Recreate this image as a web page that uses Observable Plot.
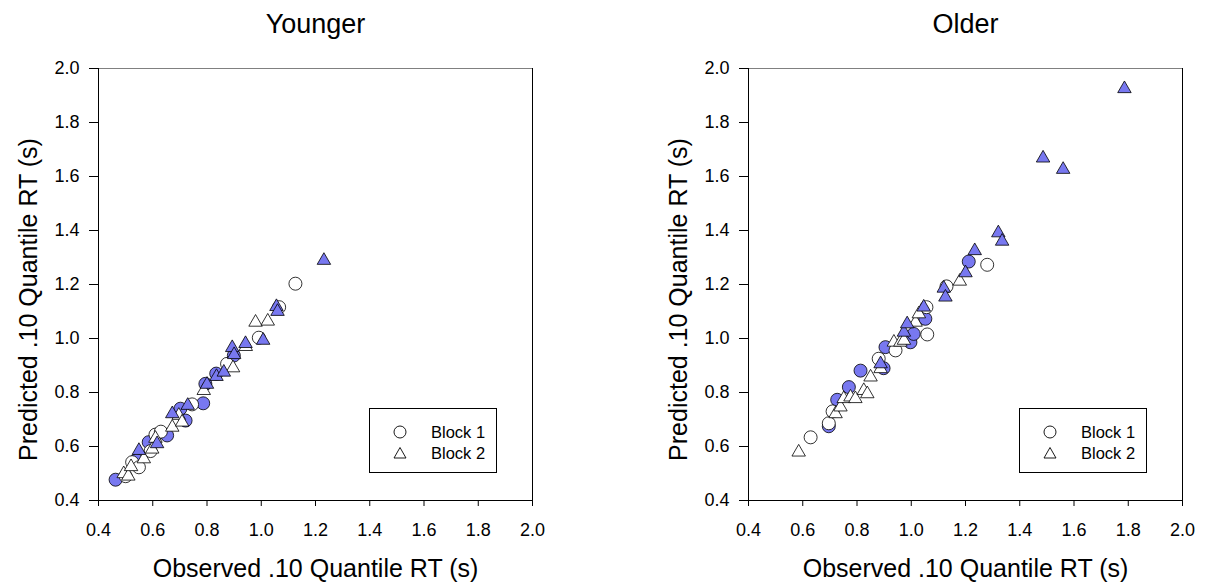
<!DOCTYPE html>
<html>
<head>
<meta charset="utf-8">
<script src="https://cdn.jsdelivr.net/npm/d3@7"></script>
<script src="https://cdn.jsdelivr.net/npm/@observablehq/plot@0.6"></script>
<style>
  html, body { margin: 0; padding: 0; background: #fff; }
  #wrap { position: relative; width: 1208px; height: 584px; overflow: hidden; font-family: "Liberation Sans", Arial, sans-serif; }
  .panel { position: absolute; top: 0; width: 540px; height: 584px; }
  .panel svg { position: absolute; left: 0; top: 0; }
  .legend { position: absolute; left: 369px; top: 408px; width: 128px; height: 65px; border: 1px solid #000; background: #fff; box-sizing: border-box; }
  .legend .row { position: absolute; left: 0; height: 20px; display: flex; align-items: center; }
  .legend .row svg { position: static; display: block; margin-left: 23px; }
  .legend .row span { font-size: 16.5px; color: #000; margin-left: 24px; }
</style>
</head>
<body>
<div id="wrap"></div>
<script>
// ---- data: [observed, predicted] pairs ----
const panelTitles = ["Younger", "Older"];
const xLabel = "Observed .10 Quantile RT (s)";
const yLabel = "Predicted .10 Quantile RT (s)";
const xTicks = [0.4, 0.6, 0.8, 1.0, 1.2, 1.4, 1.6, 1.8, 2.0];
const yTicks = [0.4, 0.6, 0.8, 1.0, 1.2, 1.4, 1.6, 1.8, 2.0];
const legendLabels = ["Block 1", "Block 2"];

const youngerB1Filled = [[0.463,0.477],[0.540,0.550],[0.585,0.616],[0.653,0.641],[0.702,0.740],[0.721,0.696],[0.786,0.760],[0.794,0.832],[0.834,0.870],[0.899,0.937]];
const youngerB1Open   = [[0.500,0.490],[0.524,0.542],[0.549,0.523],[0.592,0.583],[0.610,0.644],[0.630,0.655],[0.745,0.756],[0.874,0.906],[0.991,1.003],[1.066,1.116],[1.126,1.203]];
const youngerB2Open   = [[0.493,0.499],[0.510,0.490],[0.520,0.525],[0.567,0.554],[0.598,0.590],[0.610,0.630],[0.672,0.671],[0.696,0.715],[0.708,0.690],[0.788,0.807],[0.896,0.891],[0.943,0.970],[0.979,1.060],[1.024,1.064]];
const youngerB2Filled = [[0.549,0.585],[0.616,0.610],[0.672,0.721],[0.729,0.752],[0.800,0.830],[0.835,0.859],[0.862,0.875],[0.893,0.966],[0.900,0.940],[0.942,0.981],[1.007,0.993],[1.056,1.118],[1.060,1.100],[1.231,1.289]];

const olderB1Filled = [[0.696,0.675],[0.727,0.773],[0.770,0.820],[0.813,0.881],[0.898,0.890],[0.905,0.968],[0.997,0.986],[1.009,1.017],[1.052,1.073],[1.212,1.285]];
const olderB1Open   = [[0.629,0.634],[0.696,0.686],[0.710,0.730],[0.880,0.925],[0.942,0.956],[1.059,1.015],[1.056,1.116],[1.130,1.193],[1.280,1.273]];
const olderB2Open   = [[0.585,0.579],[0.721,0.721],[0.739,0.746],[0.751,0.777],[0.776,0.783],[0.794,0.777],[0.825,0.807],[0.838,0.795],[0.850,0.857],[0.887,0.888],[0.936,0.986],[0.960,0.986],[0.973,0.993],[1.016,1.060],[1.028,1.091],[1.179,1.212]];
const olderB2Filled = [[0.887,0.906],[0.973,1.023],[0.985,1.054],[1.046,1.116],[1.120,1.186],[1.126,1.153],[1.200,1.243],[1.234,1.325],[1.321,1.391],[1.335,1.360],[1.486,1.668],[1.560,1.626],[1.786,1.925]];

const fillColor = "#7878f0";
const fontFam = "'Liberation Sans', Arial, sans-serif";

function dotMark(pts, symbol, filled) {
  return Plot.dot(pts, {
    x: d => d[0], y: d => d[1],
    symbol, r: symbol === "circle" ? 6.5 : 5,
    fill: filled ? fillColor : "#ffffff",
    stroke: "#000", strokeWidth: 0.8
  });
}

function makePanel(title, b1f, b1o, b2o, b2f) {
  return Plot.plot({
    width: 540, height: 584,
    marginLeft: 98, marginRight: 8, marginTop: 68, marginBottom: 84,
    style: { background: "transparent", fontFamily: fontFam, color: "#000", overflow: "visible" },
    x: { domain: [0.4, 2.0] },
    y: { domain: [0.4, 2.0] },
    marks: [
      Plot.ruleY([2.0], { stroke: "#808080" }),
      Plot.ruleX([2.0], { stroke: "#000" }),
      Plot.axisX({ ticks: xTicks, tickFormat: d3.format(".1f"), tickSize: 6, tickPadding: 17, fontSize: 18, label: null }),
      Plot.axisY({ ticks: yTicks, tickFormat: d3.format(".1f"), tickSize: 9, tickPadding: 10, fontSize: 18, label: null }),
      Plot.text([xLabel], { text: d => d, frameAnchor: "bottom", textAnchor: "middle", lineAnchor: "middle", dy: 68, fontSize: 25, fill: "#000" }),
      Plot.text([yLabel], { text: d => d, frameAnchor: "left", textAnchor: "middle", lineAnchor: "middle", rotate: -90, dx: -70, dy: 15, fontSize: 25, fill: "#000" }),
      Plot.text([title], { text: d => d, frameAnchor: "top", textAnchor: "middle", lineAnchor: "middle", dy: -44, fontSize: 27, fill: "#000" }),
      Plot.ruleX([0.4], { stroke: "#000" }),
      Plot.ruleY([0.4], { stroke: "#000" }),
      dotMark(b1f, "circle", true),
      dotMark(b1o, "circle", false),
      dotMark(b2o, "triangle", false),
      dotMark(b2f, "triangle", true)
    ]
  });
}

function makeLegend() {
  const box = document.createElement("div");
  box.className = "legend";
  const syms = [
    '<svg width="14" height="14"><circle cx="7" cy="7" r="6" fill="#fff" stroke="#000" stroke-width="0.9"/></svg>',
    '<svg width="14" height="14"><path d="M7,1.5 L13,12 L1,12 Z" fill="#fff" stroke="#000" stroke-width="0.9"/></svg>'
  ];
  legendLabels.forEach((lab, i) => {
    const row = document.createElement("div");
    row.className = "row";
    row.style.top = (13 + i * 21) + "px";
    row.innerHTML = syms[i] + "<span></span>";
    row.querySelector("span").textContent = lab;
    box.appendChild(row);
  });
  return box;
}

const wrap = document.getElementById("wrap");
const panels = [
  [panelTitles[0], youngerB1Filled, youngerB1Open, youngerB2Open, youngerB2Filled],
  [panelTitles[1], olderB1Filled, olderB1Open, olderB2Open, olderB2Filled]
];
panels.forEach((p, i) => {
  const div = document.createElement("div");
  div.className = "panel";
  div.style.left = (i * 650) + "px";
  div.appendChild(makePanel(...p));
  div.appendChild(makeLegend());
  wrap.appendChild(div);
});
</script>
</body>
</html>
